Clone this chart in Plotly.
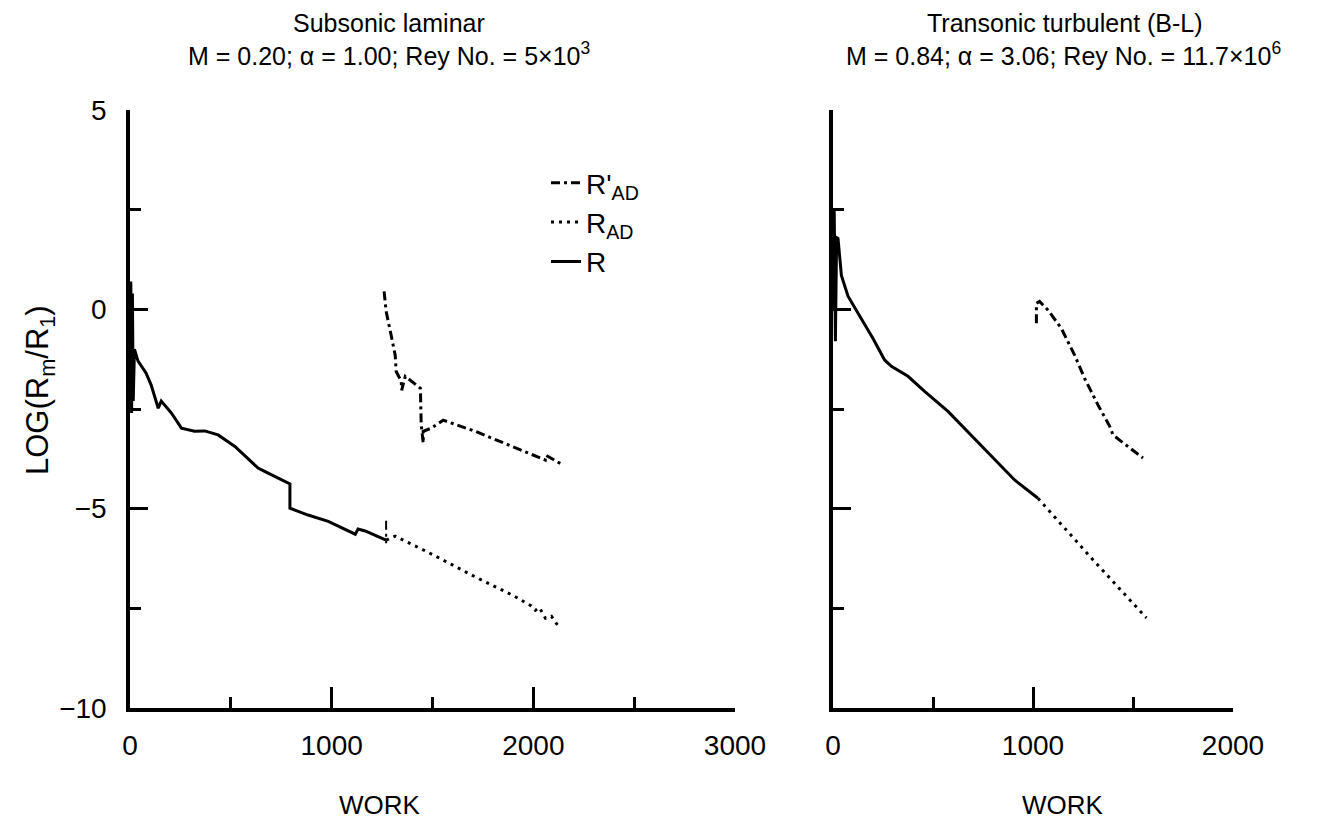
import plotly.graph_objects as go

# ---------------- data ----------------
# Left panel: Subsonic laminar
L_R_x = [0, 4, 8, 12, 16, 22, 40, 80, 105, 140, 155, 205, 255, 320, 370, 437, 520, 635, 670, 793, 793, 883, 983, 1117, 1131, 1166, 1270]
L_R_y = [0.0, 0.7, -2.6, 0.4, -2.3, -1.0, -1.3, -1.6, -1.9, -2.48, -2.3, -2.6, -2.98, -3.06, -3.05, -3.15, -3.44, -3.98, -4.07, -4.38, -4.99, -5.16, -5.32, -5.64, -5.51, -5.56, -5.79]

L_RAD_x = [1270, 1315, 1500, 1700, 1900, 1990, 2010, 2030, 2060, 2090, 2124]
L_RAD_y = [-5.79, -5.69, -6.15, -6.68, -7.18, -7.44, -7.55, -7.48, -7.75, -7.7, -7.95]

L_RADP_x = [1260, 1270, 1295, 1315, 1320, 1345, 1347, 1365, 1440, 1444, 1454, 1454, 1494, 1553, 1712, 1876, 2059, 2062, 2139]
L_RADP_y = [0.45, -0.05, -0.65, -1.15, -1.56, -1.8, -2.03, -1.68, -1.98, -2.9, -3.36, -3.06, -2.98, -2.78, -3.06, -3.4, -3.78, -3.66, -3.88]

# small dash-dot blip at the start of R_AD (left)
L_BLIP_x = [1270, 1270]
L_BLIP_y = [-5.3, -5.87]

# Right panel: Transonic turbulent (B-L)
R_R_x = [0, 6, 12, 18, 25, 42, 75, 142, 200, 258, 292, 375, 458, 575, 742, 908, 1025]
R_R_y = [0.0, 2.5, -0.8, 1.8, 1.78, 0.85, 0.33, -0.23, -0.73, -1.27, -1.43, -1.68, -2.06, -2.56, -3.43, -4.28, -4.74]

R_RAD_x = [1025, 1292, 1567]
R_RAD_y = [-4.74, -6.24, -7.74]

R_RADP_x = [1017, 1017, 1033, 1075, 1142, 1208, 1258, 1325, 1383, 1400, 1433, 1550]
R_RADP_y = [-0.35, 0.15, 0.2, -0.02, -0.48, -1.15, -1.73, -2.4, -2.93, -3.15, -3.28, -3.73]

left_xticks = [0, 1000, 2000, 3000]
right_xticks = [0, 1000, 2000]
yticks = [-10, -5, 0, 5]

names = ["R'<sub>AD</sub>", "R<sub>AD</sub>", "R"]

# ---------------- figure ----------------
W, H = 1339, 825
FONT = "Liberation Sans, Arial, Helvetica, sans-serif"
DASHDOT = "9px,4px,3px,4px"
DOT = "3px,5px"

fig = go.Figure()

def line(x, y, dash, xa, ya, name=None, show=False, width=3):
    fig.add_trace(go.Scatter(
        x=x, y=y, mode="lines", xaxis=xa, yaxis=ya,
        line=dict(color="black", width=width, dash=dash),
        name=name if name else "", showlegend=show, hoverinfo="skip"))

# Left panel (legend entries in order)
line(L_RADP_x, L_RADP_y, DASHDOT, "x", "y", names[0], True)
line(L_RAD_x, L_RAD_y, DOT, "x", "y", names[1], True)
line(L_R_x, L_R_y, "solid", "x", "y", names[2], True)
line(L_BLIP_x, L_BLIP_y, DASHDOT, "x", "y", width=2)

# Right panel
line(R_RADP_x, R_RADP_y, DASHDOT, "x2", "y2")
line(R_RAD_x, R_RAD_y, DOT, "x2", "y2")
line(R_R_x, R_R_y, "solid", "x2", "y2")

def px_x(p):
    return p / W

def px_y(p):
    return (H - p) / H

axis_common = dict(
    showgrid=False, zeroline=False, showline=True, linecolor="black", linewidth=3.5,
    ticks="inside", tickcolor="black", tickwidth=3, automargin=False,
    tickfont=dict(family=FONT, size=28, color="black"),
)
minor_x = dict(dtick=500, tick0=0, ticklen=11, tickwidth=3, tickcolor="black", ticks="inside")
minor_y = dict(dtick=2.5, tick0=0, ticklen=11, tickwidth=3, tickcolor="black", ticks="inside")

fig.update_layout(
    width=W, height=H,
    margin=dict(l=0, r=0, t=0, b=0),
    paper_bgcolor="white", plot_bgcolor="white",
    font=dict(family=FONT, color="black"),
    xaxis=dict(domain=[px_x(122), px_x(727)], range=[0, 3000], anchor="y",
               tickvals=left_xticks, ticklen=21, ticklabelstandoff=10,
               minor=minor_x, **axis_common),
    yaxis=dict(domain=[px_y(700), px_y(102)], range=[-10, 5], anchor="x",
               tickvals=yticks, ticklen=18, ticklabelstandoff=14,
               minor=minor_y, **axis_common),
    xaxis2=dict(domain=[px_x(825), px_x(1225)], range=[0, 2000], anchor="y2",
                tickvals=right_xticks, ticklen=21, ticklabelstandoff=10,
                minor=minor_x, **axis_common),
    yaxis2=dict(domain=[px_y(700), px_y(102)], range=[-10, 5], anchor="x2",
                tickvals=yticks, ticklen=18, showticklabels=False,
                minor=minor_y, **axis_common),
    legend=dict(x=px_x(538), y=px_y(150), xanchor="left", yanchor="top",
                bgcolor="rgba(0,0,0,0)", borderwidth=0,
                font=dict(family=FONT, size=28, color="black"),
                itemwidth=30, tracegroupgap=0, traceorder="normal"),
    showlegend=True,
)

ann = [
    dict(text="Subsonic laminar", x=px_x(381), y=px_y(0), size=25, anchor="top"),
    dict(text="M = 0.20; α = 1.00; Rey No. = 5×10<sup>3</sup>", x=px_x(381), y=px_y(29), size=25, anchor="top"),
    dict(text="Transonic turbulent (B-L)", x=px_x(1057), y=px_y(0), size=25, anchor="top"),
    dict(text="M = 0.84; α = 3.06; Rey No. = 11.7×10<sup>6</sup>", x=px_x(1055), y=px_y(29), size=25, anchor="top"),
    dict(text="WORK", x=px_x(372), y=px_y(797), size=26, anchor="middle"),
    dict(text="WORK", x=px_x(1055), y=px_y(797), size=26, anchor="middle"),
]
for a in ann:
    fig.add_annotation(xref="paper", yref="paper", showarrow=False,
                       text=a["text"], x=a["x"], y=a["y"],
                       xanchor="center", yanchor=a["anchor"], borderpad=0,
                       font=dict(family=FONT, size=a["size"], color="black"))

fig.add_annotation(xref="paper", yref="paper", showarrow=False,
                   text="LOG(R<sub>m</sub>/R<sub>1</sub>)", x=px_x(32), y=px_y(382),
                   textangle=-90, xanchor="center", yanchor="middle",
                   font=dict(family=FONT, size=31, color="black"))

fig.write_html("out.html")
